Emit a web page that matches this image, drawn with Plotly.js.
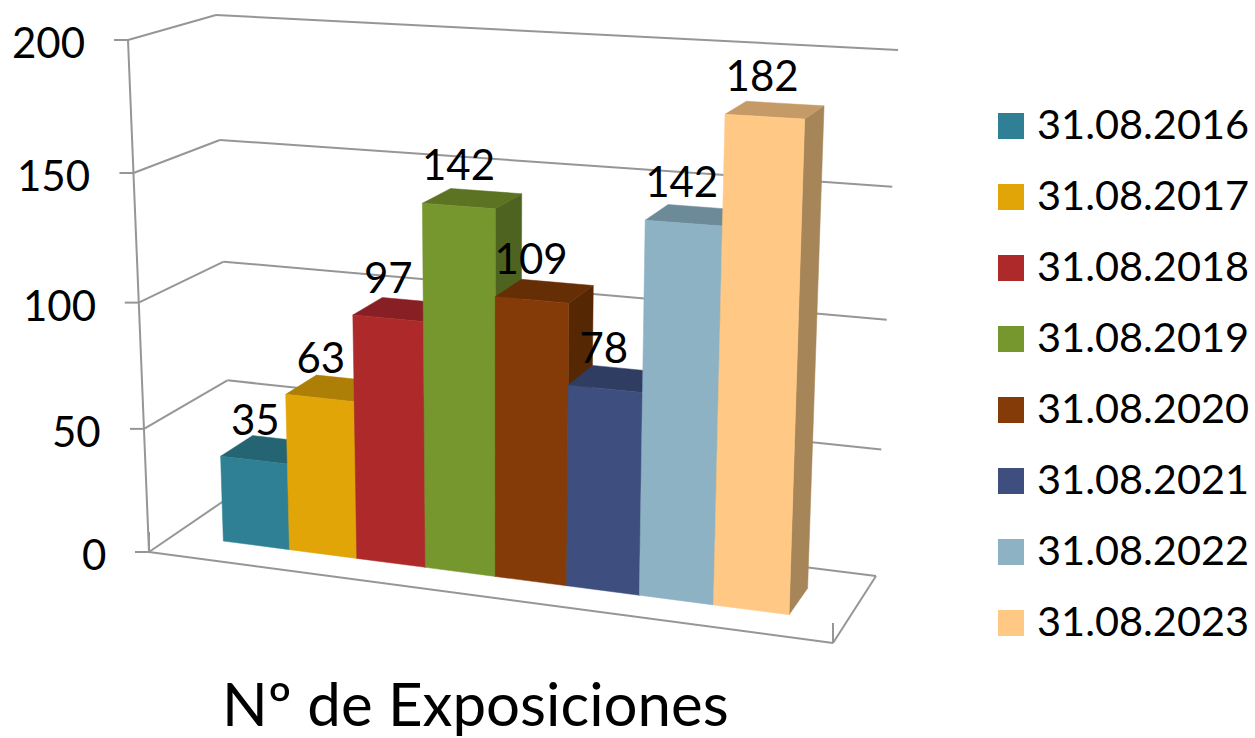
<!DOCTYPE html>
<html><head><meta charset="utf-8">
<script src="https://cdn.plot.ly/plotly-3.0.0.min.js"></script>
<style>html,body{margin:0;padding:0;background:#fff}#c{width:1255px;height:738px}</style></head>
<body><div id="c"></div>
<script>
const categories = ['31.08.2016','31.08.2017','31.08.2018','31.08.2019','31.08.2020','31.08.2021','31.08.2022','31.08.2023'];
const values = [35,63,97,142,109,78,142,182];
const frontColors = ['#2F8095','#E2A508','#AE2A2A','#76962E','#843B07','#3E4F7F','#8CB2C4','#FFC985'];
const topColors = ['#256472','#AE7F06','#871F24','#5B7322','#662E04','#303D62','#6C8A98','#C49B66'];
const sideColors = ['#1F5462','#93690A','#741B1E','#4E6320','#562703','#29354F','#5C7682','#A68558'];
const axisTicks = [0,50,100,150,200];
const axisMax = 200;

const FONT = 'Lato, "Open Sans", sans-serif';
const GRID = '#969696';
const GW = 2;
// view volume corners in screen units: [category end, value end, depth end]
const corners = {
  '000':[149,552],'100':[833,643],'010':[128,40],'110':[853,80],
  '001':[231,496],'101':[876,576],'011':[216,15],'111':[898,50]
};
const warp = (t,k) => t/(1+k*(1-t));
function P(u,val,w){
  const v = warp(val/axisMax,0.053);
  const out=[0,0];
  for(const a of [0,1]) for(const b of [0,1]) for(const c of [0,1]){
    const f=(a?u:1-u)*(b?v:1-v)*(c?w:1-w);
    const q=corners[''+a+b+c];
    out[0]+=f*q[0]; out[1]+=f*q[1];
  }
  return out;
}
const U0=0.0728, UW=0.842, WF=0.31, WB=0.71;
const edge = i => U0+UW*warp(i/categories.length,0.08);
function face(pts,color,name){
  const xy=pts.map(p=>P(p[0],p[1],p[2]));
  xy.push(xy[0]);
  return {type:'scatter',mode:'lines',x:xy.map(p=>p[0]),y:xy.map(p=>p[1]),fill:'toself',fillcolor:color,
          line:{color:color,width:0.5},hoverinfo:'skip',showlegend:false,name:name};
}
function seg(a,b){
  const pa=P(a[0],a[1],a[2]),pb=P(b[0],b[1],b[2]);
  return {type:'line',xref:'x',yref:'y',x0:pa[0],y0:pa[1],x1:pb[0],y1:pb[1],line:{color:GRID,width:GW},layer:'below'};
}
const traces=[];
categories.forEach((c,i)=>{
  const u0=edge(i),u1=edge(i+1),v=values[i];
  traces.push(face([[u1,0,WF],[u1,0,WB],[u1,v,WB],[u1,v,WF]],sideColors[i],c+' side'));
  traces.push(face([[u0,v,WF],[u1,v,WF],[u1,v,WB],[u0,v,WB]],topColors[i],c+' top'));
  traces.push(face([[u0,0,WF],[u1,0,WF],[u1,v,WF],[u0,v,WF]],frontColors[i],c));
});
// value labels
const lab=categories.map((c,i)=>P(((edge(i)+edge(i+1))/2)*0.992+0.003,values[i],WF));
traces.push({type:'scatter',mode:'text',x:lab.map(p=>p[0]),y:lab.map(p=>p[1]-36),text:values.map(String),
  textfont:{family:FONT,size:42,color:'#000'},textposition:'middle center',hoverinfo:'skip',showlegend:false});

const shapes=[];
axisTicks.forEach(t=>{
  shapes.push(seg([0,t,0],[0,t,1]));
  shapes.push(seg([0,t,1],[1,t,1]));
  const p=P(0,t,0);
  shapes.push({type:'line',xref:'x',yref:'y',x0:p[0]-14,y0:p[1],x1:p[0],y1:p[1],line:{color:GRID,width:GW},layer:'below'});
});
shapes.push(seg([0,0,0],[0,axisMax,0]));
shapes.push(seg([0,0,0],[1,0,0]));
shapes.push(seg([1,0,0],[1,0,1]));
[0,1].forEach(u=>{const p=P(u,0,0);shapes.push({type:'line',xref:'x',yref:'y',x0:p[0],y0:p[1],x1:p[0],y1:p[1]-20,line:{color:GRID,width:GW},layer:'below'});});

const annotations=[];
axisTicks.forEach(t=>{
  const p=P(0,t,0);
  annotations.push({xref:'x',yref:'y',x:p[0]-41,y:p[1]+2,text:String(t),showarrow:false,xanchor:'right',yanchor:'middle',font:{family:FONT,size:42,color:'#000'}});
});
categories.forEach((c,i)=>{
  const yc=126+71*i;
  shapes.push({type:'rect',xref:'x',yref:'y',x0:998,x1:1024,y0:yc-13,y1:yc+13,fillcolor:frontColors[i],line:{width:0}});
  annotations.push({xref:'x',yref:'y',x:1035,y:yc-3,text:c,showarrow:false,xanchor:'left',yanchor:'middle',font:{family:FONT,size:41.5,color:'#000'}});
});
annotations.push({xref:'x',yref:'y',x:475,y:703,text:'Nº de Exposiciones',showarrow:false,xanchor:'center',yanchor:'middle',font:{family:FONT,size:60,color:'#000'}});

Plotly.newPlot('c',traces,{
  width:1255,height:738,margin:{l:0,r:0,t:0,b:0},paper_bgcolor:'#fff',plot_bgcolor:'#fff',showlegend:false,
  xaxis:{range:[0,1255],visible:false,fixedrange:true},
  yaxis:{range:[738,0],visible:false,fixedrange:true},
  shapes,annotations
},{displayModeBar:false,staticPlot:true});
</script></body></html>
